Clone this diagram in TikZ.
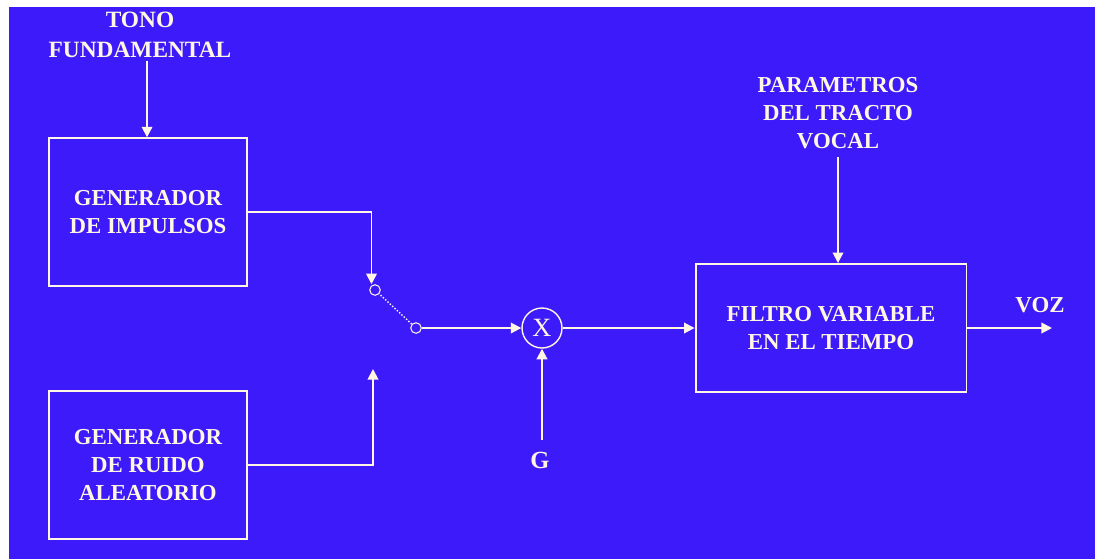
\documentclass[tikz,border=0pt]{standalone}
\usepackage{fontspec}
\setmainfont{Liberation Serif}
\usetikzlibrary{arrows.meta,positioning,calc}
\definecolor{fondo}{RGB}{61,26,250}
\definecolor{tiza}{RGB}{255,246,228}

\begin{document}
\begin{tikzpicture}[x=0.02cm, y=-0.02cm,
    line width=1.1pt, draw=tiza, text=tiza,
    bloque/.style={draw, minimum width=3.96cm, minimum height=2.95cm, align=center, font=\fontsize{13}{16}\selectfont\bfseries},
    filtro/.style={draw, minimum width=5.42cm, minimum height=2.56cm, align=center, font=\fontsize{13}{16}\selectfont\bfseries},
    rotulo/.style={align=center, font=\fontsize{13}{16}\selectfont\bfseries, inner sep=1pt},
    contacto/.style={draw, circle, inner sep=0pt, minimum size=6pt, line width=0.6pt},
    mult/.style={draw, circle, inner sep=0pt, minimum size=0.8cm, line width=0.8pt},
    arr/.style={-{Triangle[length=6pt,width=6pt]}}
]
    \useasboundingbox (0,0) rectangle (1095,559);
    \fill[fondo] (9,7) rectangle (1095,559);

    \node[rotulo, font=\fontsize{13.3}{17}\selectfont\bfseries] (tono) at (140,35) {TONO\\FUNDAMENTAL};
    \node[bloque] (gen1) at (148,212) {GENERADOR\\DE IMPULSOS};
    \node[bloque] (gen2) at (148,465) {GENERADOR\\DE RUIDO\\ALEATORIO};
    \node[filtro] (filt) at (831,328) {FILTRO VARIABLE\\EN EL TIEMPO};
    \node[rotulo] (param) at (838,113) {PARAMETROS\\DEL TRACTO\\VOCAL};

    \node[contacto] (sw1) at (375,290) {};
    \coordinate (sw2) at (373,369);
    \node[contacto] (piv) at (416,328) {};
    \node[mult] (prod) at (542,328) {\fontsize{15}{15}\selectfont X};
    \node[rotulo, font=\fontsize{14}{16}\selectfont\bfseries] (ganancia) at (540,460) {G};
    \coordinate (salida) at (1052,328);
    \node[rotulo] (voz) at (1040,305) {VOZ};

    \draw[arr] ([xshift=4pt]tono.south) -- ([xshift=4pt]tono.south |- gen1.north);
    \draw[arr] (gen1.east) -| ([xshift=-2pt]sw1.north);
    \draw[arr] (gen2.east) -| (sw2);
    \draw[densely dotted, line width=0.8pt] (piv) -- (sw1);
    \draw[arr] (piv) -- (prod);
    \draw[arr, shorten <=5pt] (prod.south |- ganancia.north) -- (prod.south);
    \draw[arr] (prod) -- (filt);
    \draw[arr, shorten <=3pt] (param.south) -- (param.south |- filt.north);
    \draw[arr] (filt.east) -- (salida);
\end{tikzpicture}
\end{document}
